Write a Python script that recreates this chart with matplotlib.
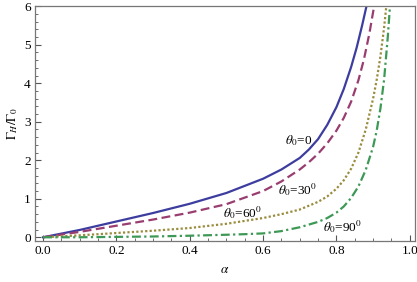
import matplotlib.pyplot as plt
import numpy as np

plt.rcParams["font.family"] = ["Liberation Serif", "DejaVu Serif"]
plt.rcParams["mathtext.fontset"] = "stix"

# values
alpha_0 = [0.0, 0.1, 0.2, 0.3, 0.4, 0.5, 0.6, 0.65, 0.7, 0.725, 0.75, 0.775, 0.8, 0.82, 0.84,
           0.855, 0.87, 0.88, 0.882]
gamma_0 = [0.0, 0.19, 0.41, 0.63, 0.87, 1.15, 1.52, 1.76, 2.06, 2.28, 2.55, 2.92, 3.38, 3.85, 4.42,
           4.92, 5.5, 5.92, 6.0]

alpha_30 = [0.0, 0.1, 0.2, 0.3, 0.4, 0.5, 0.6, 0.65, 0.7, 0.725, 0.75, 0.775, 0.8, 0.82, 0.84,
            0.86, 0.875, 0.89, 0.9, 0.903]
gamma_30 = [0.0, 0.14, 0.3, 0.46, 0.64, 0.86, 1.2, 1.45, 1.76, 1.95, 2.17, 2.44, 2.77, 3.1, 3.52,
            4.08, 4.62, 5.3, 5.85, 6.0]

alpha_60 = [0.0, 0.1, 0.2, 0.3, 0.4, 0.5, 0.6, 0.65, 0.7, 0.75, 0.775, 0.8, 0.82, 0.84, 0.86,
            0.88, 0.9, 0.91, 0.92, 0.93, 0.936]
gamma_60 = [0.0, 0.05, 0.11, 0.17, 0.24, 0.35, 0.5, 0.6, 0.72, 0.92, 1.06, 1.26, 1.48, 1.78, 2.2,
            2.8, 3.6, 4.1, 4.7, 5.45, 6.0]

alpha_90 = [0.0, 0.1, 0.2, 0.3, 0.4, 0.5, 0.55, 0.6, 0.65, 0.7, 0.75, 0.775, 0.8, 0.82, 0.84, 0.86,
            0.88, 0.9, 0.91, 0.92, 0.93, 0.94, 0.946]
gamma_90 = [0.0, 0.0, 0.01, 0.02, 0.04, 0.065, 0.08, 0.1, 0.16, 0.26, 0.4, 0.5, 0.64, 0.8, 1.02, 1.32,
            1.75, 2.35, 2.78, 3.35, 4.1, 5.2, 6.0]

labels = [r"$\theta_0$=0", r"$\theta_0$=30$^0$", r"$\theta_0$=60$^0$", r"$\theta_0$=90$^0$"]
label_pos = [(0.698, 2.5), (0.695, 1.25), (0.545, 0.63), (0.817, 0.29)]

series = [
    (alpha_0, gamma_0, "#3d3d9f", "-"),
    (alpha_30, gamma_30, "#993d71", (0, (4, 2))),
    (alpha_60, gamma_60, "#998c3d", (0, (1, 1))),
    (alpha_90, gamma_90, "#3d9955", (0, (4, 1.5, 1, 1.5))),
]

fig = plt.figure(figsize=(4.17, 2.82), dpi=100)
ax = fig.add_axes([0.084, 0.145, 0.911, 0.833])

for a, g, c, ls in series:
    ax.plot(a, g, color=c, linestyle=ls, linewidth=1.6)

for txt, (x, y) in zip(labels, label_pos):
    ax.text(x, y, txt, fontsize=9.5, ha="center", va="center")

ax.set_xlim(-0.022, 1.014)
ax.set_ylim(-0.1, 6.0)
ax.set_xticks(np.arange(0, 1.01, 0.2))
ax.set_xticks(np.arange(0, 1.01, 0.05), minor=True)
ax.set_yticks(range(7))
ax.set_yticks(np.arange(0, 6.01, 0.2), minor=True)
ax.xaxis.set_major_formatter(plt.FormatStrFormatter("%.1f"))

for s in ax.spines.values():
    s.set_color("#777777")
    s.set_linewidth(0.9)
ax.tick_params(which="both", direction="in", top=False, right=False, color="#555555",
               labelsize=9.5, pad=3)
ax.tick_params(which="major", length=4, width=0.8)
ax.tick_params(which="minor", length=2, width=0.6)

ax.set_xlabel(r"$\alpha$", fontsize=9.5, labelpad=5)
ax.set_ylabel(r"$\Gamma_H/\Gamma_0$", fontsize=9.5, labelpad=3)

fig.savefig("out.png", dpi=100)
